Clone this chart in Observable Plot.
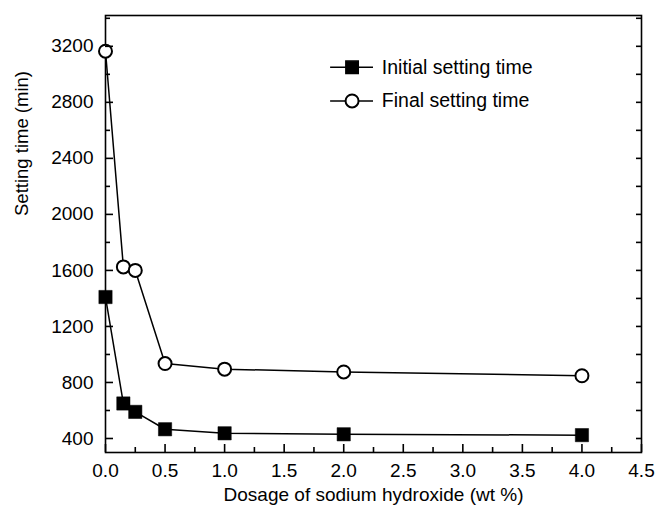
<!DOCTYPE html>
<html>
<head>
<meta charset="utf-8">
<script src="https://cdn.jsdelivr.net/npm/d3@7"></script>
<script src="https://cdn.jsdelivr.net/npm/@observablehq/plot@0.6"></script>
<style>
  body { margin: 0; background: #fff; }
  #chart svg { font-family: "Liberation Sans", Arial, Helvetica, sans-serif; }
</style>
</head>
<body>
<div id="chart"></div>
<script>
const dosage = [0, 0.15, 0.25, 0.5, 1.0, 2.0, 4.0];
const initialSetting = [1410, 650, 590, 466, 437, 430, 424];
const finalSetting = [3165, 1625, 1600, 935, 895, 875, 848];
const xTicks = [0, 0.5, 1.0, 1.5, 2.0, 2.5, 3.0, 3.5, 4.0, 4.5];
const xMinor = [0.25, 0.75, 1.25, 1.75, 2.25, 2.75, 3.25, 3.75, 4.25];
const yTicks = [400, 800, 1200, 1600, 2000, 2400, 2800, 3200];
const yMinor = [600, 1000, 1400, 1800, 2200, 2600, 3000, 3400];
const seriesNames = ["Initial setting time", "Final setting time"];
const xTitle = "Dosage of sodium hydroxide (wt %)";
const yTitle = "Setting time (min)";

const initData = dosage.map((d, i) => ({x: d, y: initialSetting[i]}));
const finalData = dosage.map((d, i) => ({x: d, y: finalSetting[i]}));

// legend placed inside the plot (data-space anchors)
const legend = [
  {name: seriesNames[0], y: 3050, kind: "square"},
  {name: seriesNames[1], y: 2810, kind: "circle"}
];

const W = 658, H = 512, ML = 105, MR = 17, MT = 15, MB = 60;
const innerW = W - ML - MR, innerH = H - MT - MB;
const major = 8, minor = 5;

const chart = Plot.plot({
  width: W,
  height: H,
  marginLeft: ML,
  marginRight: MR,
  marginTop: MT,
  marginBottom: MB,
  style: {fontSize: "18.5px", fontFamily: "Liberation Sans, Arial, sans-serif", color: "#000", background: "#fff"},
  x: {domain: [0, 4.5]},
  y: {domain: [300, 3420]},
  marks: [
    Plot.frame({stroke: "#000", strokeWidth: 1.6}),
    // axis labels
    Plot.axisX({ticks: xTicks, tickSize: 0, tickPadding: 11, tickFormat: d3.format(".1f"), fontSize: 19,
      label: xTitle, labelAnchor: "center", labelArrow: "none", labelOffset: 48}),
    Plot.axisY({ticks: yTicks, tickSize: 0, tickPadding: 12, tickFormat: d3.format("d"), fontSize: 19, label: null}),
    Plot.text([yTitle], {frameAnchor: "left", rotate: -90, dx: -83, dy: -18, fontSize: 18.5, fill: "#000"}),
    // series
    Plot.line(finalData, {x: "x", y: "y", stroke: "#000", strokeWidth: 1.5}),
    Plot.line(initData, {x: "x", y: "y", stroke: "#000", strokeWidth: 1.5}),
    Plot.dot(finalData, {x: "x", y: "y", r: 6.5, fill: "#fff", stroke: "#000", strokeWidth: 2}),
    Plot.dot(initData, {x: "x", y: "y", symbol: "square", r: 7.5, fill: "#000", stroke: "#000", strokeWidth: 0.5}),
    // legend
    Plot.ruleY(legend, {y: "y", x1: 1.89, x2: 2.25, stroke: "#000", strokeWidth: 1.5}),
    Plot.dot(legend.filter(d => d.kind === "square"), {x: 2.07, y: "y", symbol: "square", r: 7, fill: "#000", stroke: "#000"}),
    Plot.dot(legend.filter(d => d.kind === "circle"), {x: 2.07, y: "y", r: 6.5, fill: "#fff", stroke: "#000", strokeWidth: 2}),
    Plot.text(legend, {x: 2.32, y: "y", text: "name", textAnchor: "start", fontSize: 19.5, fill: "#000"}),
    // inward ticks (drawn last so nothing covers them)
    Plot.ruleX(xTicks, {x: d => d, insetTop: innerH - major, stroke: "#000", strokeWidth: 1.6}),
    Plot.ruleX(xMinor, {x: d => d, insetTop: innerH - minor, stroke: "#000", strokeWidth: 1.6}),
    Plot.ruleY(yTicks, {y: d => d, insetRight: innerW - major, stroke: "#000", strokeWidth: 1.6}),
    Plot.ruleY(yMinor, {y: d => d, insetRight: innerW - minor, stroke: "#000", strokeWidth: 1.6}),
    Plot.ruleY(yTicks.concat(yMinor), {y: d => d, insetLeft: innerW - minor, stroke: "#000", strokeWidth: 1.6})
  ]
});
document.getElementById("chart").appendChild(chart);
</script>
</body>
</html>
